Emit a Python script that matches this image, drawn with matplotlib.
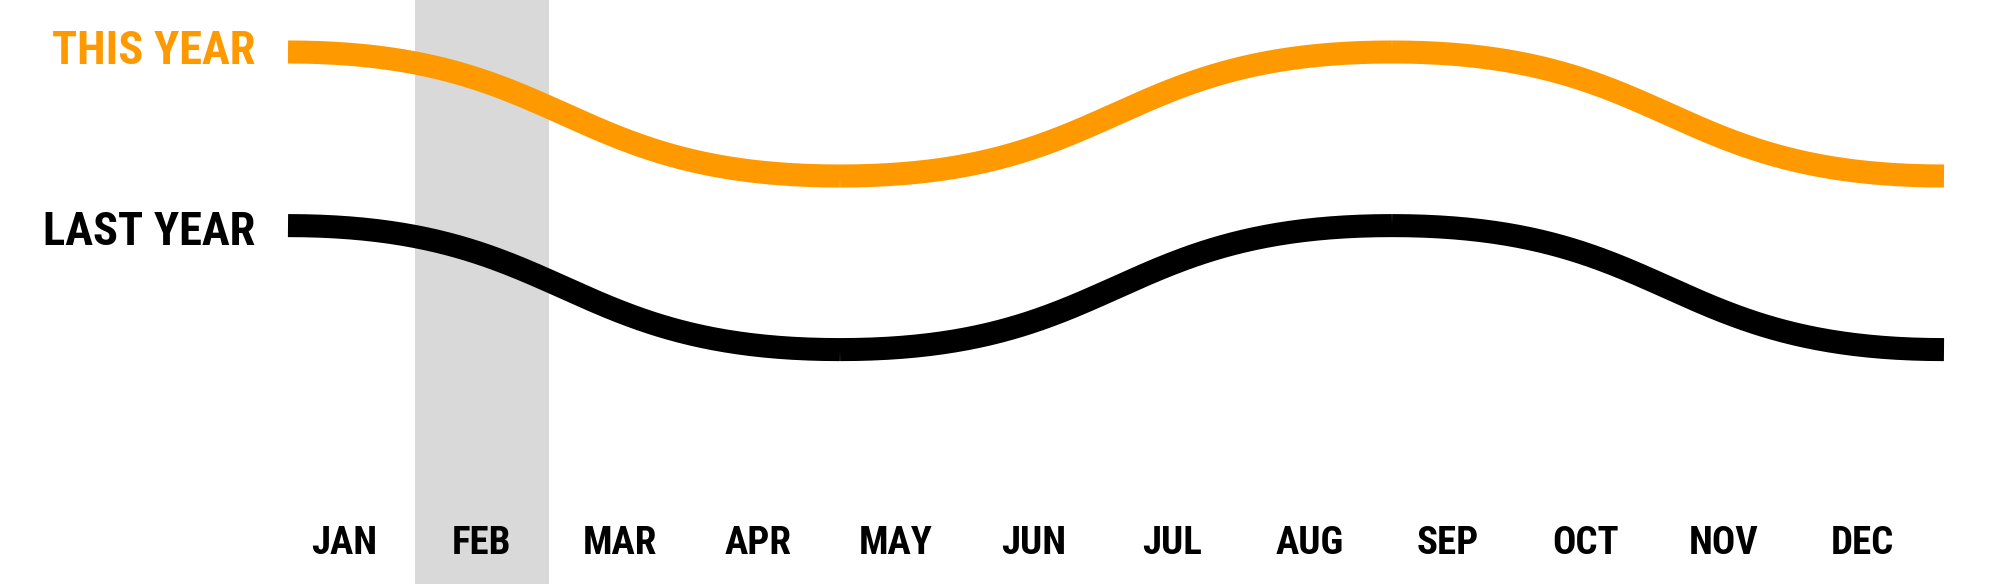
import matplotlib
matplotlib.use("Agg")
import matplotlib.pyplot as plt
import numpy as np

months = ["JAN", "FEB", "MAR", "APR", "MAY", "JUN", "JUL", "AUG", "SEP", "OCT", "NOV", "DEC"]
highlight_month = "FEB"
series_names = ["THIS YEAR", "LAST YEAR"]
this_year = [90, 70, 90, 70]
last_year = [62, 42, 62, 42]

ORANGE = "#FF9900"
BLACK = "#000000"
GREY = "#D9D9D9"
FAM = ["Roboto Condensed", "Roboto", "DejaVu Sans"]

W, H, DPI = 1998, 584, 100
fig = plt.figure(figsize=(W / DPI, H / DPI), dpi=DPI)

# background axes: month bands and labels (full figure, y in pixels from top)
step = 138.0
first_center = 344.0
axb = fig.add_axes([0, 0, 1, 1])
axb.set_xlim(-first_center / step, (W - first_center) / step)
axb.set_ylim(H, 0)
axb.axis("off")
hi = months.index(highlight_month)
axb.axvspan(hi - 67 / step, hi + 67 / step, ymin=0, ymax=1, color=GREY, lw=0, zorder=0)
for i, m in enumerate(months):
    axb.text(i, 554, m, ha="center", va="baseline", fontsize=28,
             fontweight="bold", family=FAM, color=BLACK)

# line axes
x0, x1 = 288, 1944
ax = fig.add_axes([x0 / W, 0, (x1 - x0) / W, 1])
ax.axis("off")
px_per_unit = 6.2
top_val = this_year[0] + 52 / px_per_unit
ax.set_ylim(top_val - H / px_per_unit, top_val)
ax.set_xlim(0, len(this_year) - 1)

def bump(vals, color):
    for i in range(len(vals) - 1):
        t = np.linspace(0, 1, 150)
        xa, xb = i, i + 1
        xm = (xa + xb) / 2
        ya, yb = vals[i], vals[i + 1]
        bx = (1 - t) ** 3 * xa + 3 * (1 - t) ** 2 * t * xm + 3 * (1 - t) * t ** 2 * xm + t ** 3 * xb
        by = (1 - t) ** 3 * ya + 3 * (1 - t) ** 2 * t * ya + 3 * (1 - t) * t ** 2 * yb + t ** 3 * yb
        ax.plot(bx, by, color=color, lw=16.6, solid_capstyle="butt", clip_on=False)

bump(this_year, ORANGE)
bump(last_year, BLACK)

label_baseline_px = [64, 245]
for name, col, yb in zip(series_names, [ORANGE, BLACK], label_baseline_px):
    axb.text((255 - first_center) / step, yb, name, ha="right", va="baseline",
             fontsize=33.5, fontweight="bold", family=FAM, color=col)

fig.savefig("out.png", dpi=DPI)
